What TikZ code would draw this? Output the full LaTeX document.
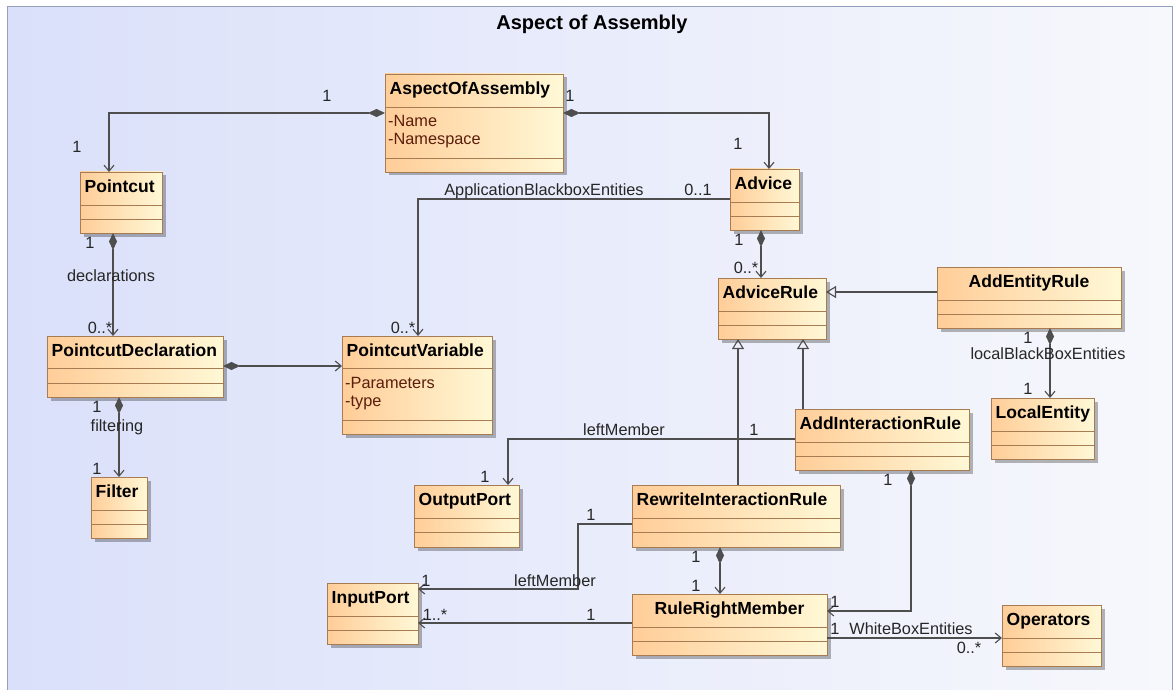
\documentclass[tikz,border=0pt]{standalone}
\usepackage{fontspec}
\setmainfont{Liberation Sans}
\usetikzlibrary{arrows.meta,shadows}
\definecolor{bgL}{RGB}{218,224,250}
\definecolor{bgR}{RGB}{247,248,252}
\definecolor{boxL}{RGB}{255,205,152}
\definecolor{boxR}{RGB}{255,248,214}
\definecolor{boxBorder}{RGB}{168,124,82}
\definecolor{lineC}{RGB}{78,78,78}
\definecolor{attrC}{RGB}{92,30,12}
\definecolor{frameC}{RGB}{150,160,188}
\newcommand{\umlcls}[8]{%
  \node[umlbox, minimum width={(#4-#2)*1pt}, minimum height={(#5-#3)*1pt}] (#1) at (#2,#3) {};
  \draw[cline] (#2,#6) -- (#4,#6) (#2,#7) -- (#4,#7);
  \node[cname, anchor=base west] (#1t) at ({#2+4.5},{#3+20.5}) {#8};}
\newcommand{\umlclsc}[8]{%
  \node[umlbox, minimum width={(#4-#2)*1pt}, minimum height={(#5-#3)*1pt}] (#1) at (#2,#3) {};
  \draw[cline] (#2,#6) -- (#4,#6) (#2,#7) -- (#4,#7);
  \node[cname, anchor=base] (#1t) at ({(#2+#4)/2},{#3+20.5}) {#8};}
\newcommand{\lbl}[4]{\node[lab, anchor=base] (#1) at (#2,#3) {#4};}
\begin{document}
\begin{tikzpicture}[x=1pt,y=-1pt,
  umlbox/.style={draw=boxBorder, line width=0.9pt, left color=boxL, right color=boxR,
    inner sep=0pt, outer sep=0pt, anchor=north west,
    drop shadow={shadow xshift=3.5pt, shadow yshift=-3.5pt, opacity=0.28, fill=black}},
  cline/.style={draw=boxBorder, line width=0.9pt},
  cname/.style={font=\fontsize{17.5}{20}\selectfont\bfseries, text=black, inner sep=0pt},
  attr/.style={font=\fontsize{16.3}{18}\selectfont, text=attrC, inner sep=0pt, anchor=base west},
  lab/.style={font=\fontsize{16.3}{18}\selectfont, text=black!85, inner sep=0pt},
  ttl/.style={font=\fontsize{20}{24}\selectfont\bfseries, text=black, inner sep=0pt},
  assoc/.style={draw=lineC, line width=1.1pt, -{Straight Barb[length=6pt,width=10pt]}},
  comp/.style={draw=lineC, line width=1.1pt, {Diamond[length=17pt,width=8pt,fill=lineC]}-{Straight Barb[length=6pt,width=10pt]}},
  gen/.style={draw=lineC, line width=1.1pt, -{Triangle[open,length=10pt,width=12pt]}}]
\useasboundingbox (0,0) rectangle (1176,690);
\fill[white] (0,0) rectangle (1176,690);
\shade[left color=bgL, right color=bgR] (7,7) rectangle (1172,690);
\draw[frameC, line width=1pt] (7,700) -- (7,7) -- (1172,7) -- (1172,700);
\node[ttl, anchor=base] (title) at (592,30) {Aspect of Assembly};

\umlcls{aoa}{385}{74}{563}{172}{107}{158}{AspectOfAssembly}
\umlcls{pc}{80}{172}{162}{233}{205}{219}{Pointcut}
\umlcls{adv}{730}{169}{799}{230}{202}{216}{Advice}
\umlcls{ar}{718}{278}{826}{339}{311}{325}{AdviceRule}
\umlclsc{aer}{937}{267}{1121}{328}{300}{314}{AddEntityRule}
\umlcls{le}{991}{398}{1094}{459}{431}{445}{LocalEntity}
\umlcls{air}{795}{409}{969}{470}{442}{456}{AddInteractionRule}
\umlcls{pd}{47}{336}{223}{397}{368}{383}{PointcutDeclaration}
\umlcls{pv}{342}{336}{492}{434}{368}{420}{PointcutVariable}
\umlcls{flt}{91}{477}{147}{538}{510}{524}{Filter}
\umlcls{op}{414}{485}{519}{547}{518}{532}{OutputPort}
\umlcls{ip}{327}{583}{418}{644}{616}{630}{InputPort}
\umlcls{rir}{632}{485}{840}{547}{518}{532}{RewriteInteractionRule}
\umlclsc{rrm}{632}{594}{827}{655}{627}{641}{RuleRightMember}
\umlcls{ops}{1002}{605}{1101}{666}{638}{652}{Operators}

\node[attr] (aoaa1) at (388,127) {-Name};
\node[attr] (aoaa2) at (388,145) {-Namespace};
\node[attr] (pva1) at (345,388) {-Parameters};
\node[attr] (pva2) at (345,406) {-type};

\coordinate (b13) at (578,560);
\draw[comp] ([yshift=-39pt]aoa.north west) -| ([xshift=29pt]pc.north west);
\draw[comp] ([yshift=-39pt]aoa.north east) -| ([xshift=39pt]adv.north west);
\draw[assoc] ([yshift=-30pt]adv.north west) -| ([xshift=76pt]pv.north west);
\draw[comp] ([xshift=33pt]pc.south west) -- ([xshift=66pt]pd.north west);
\draw[comp] ([yshift=-30pt]pd.north east) -- ([yshift=-30pt]pv.north west);
\draw[comp] ([xshift=72pt]pd.south west) -- ([xshift=28pt]flt.north west);
\draw[comp] ([xshift=31pt]adv.south west) -- ([xshift=43pt]ar.north west);
\draw[gen] ([yshift=-25pt]aer.north west) -- ([yshift=-14pt]ar.north east);
\draw[comp] ([xshift=113pt]aer.south west) -- ([xshift=59pt]le.north west);
\draw[gen] ([xshift=8pt]air.north west) -- ([xshift=85pt]ar.south west);
\draw[gen] ([xshift=106pt]rir.north west) -- ([xshift=20pt]ar.south west);
\draw[assoc] ([yshift=-30pt]air.north west) -| ([xshift=94pt]op.north west);
\draw[assoc] ([yshift=-39pt]rir.north west) -| (b13) |- ([yshift=-6pt]ip.north east);
\draw[assoc] ([yshift=-29pt]rrm.north west) -- ([yshift=-40pt]ip.north east);
\draw[comp] ([xshift=88pt]rir.south west) -- ([xshift=88pt]rrm.north west);
\draw[comp] ([xshift=116pt]air.south west) |- ([yshift=-17pt]rrm.north east);
\draw[assoc] ([yshift=-44pt]rrm.north east) -- ([yshift=-33pt]ops.north west);

\lbl{m1}{327}{102}{1}
\lbl{m2}{77}{153}{1}
\lbl{m3}{570}{102}{1}
\lbl{m4}{738}{150}{1}
\lbl{n1}{544}{196}{ApplicationBlackboxEntities}
\lbl{m5}{698}{196}{0..1}
\lbl{m6}{403}{333}{0..*}
\lbl{m7}{90}{248}{1}
\lbl{n2}{111}{281}{declarations}
\lbl{m8}{100}{333}{0..*}
\lbl{m9}{97}{412}{1}
\lbl{n3}{117}{431}{filtering}
\lbl{m10}{97}{474}{1}
\lbl{m11}{739}{245}{1}
\lbl{m12}{746}{273}{0..*}
\lbl{m13}{1028}{343}{1}
\lbl{n4}{1048}{359}{localBlackBoxEntities}
\lbl{m14}{1028}{394}{1}
\lbl{n5}{624}{435}{leftMember}
\lbl{m15}{754}{435}{1}
\lbl{m16}{485}{482}{1}
\lbl{m17}{591}{520}{1}
\lbl{n6}{555}{586}{leftMember}
\lbl{m18}{426}{586}{1}
\lbl{m19}{435}{620}{1..*}
\lbl{m20}{591}{620}{1}
\lbl{m21}{696}{562}{1}
\lbl{m22}{696}{591}{1}
\lbl{m23}{888}{485}{1}
\lbl{m24}{835}{607}{1}
\lbl{m25}{835}{634}{1}
\lbl{n7}{911}{634}{WhiteBoxEntities}
\lbl{m26}{969}{653}{0..*}
\end{tikzpicture}
\end{document}
